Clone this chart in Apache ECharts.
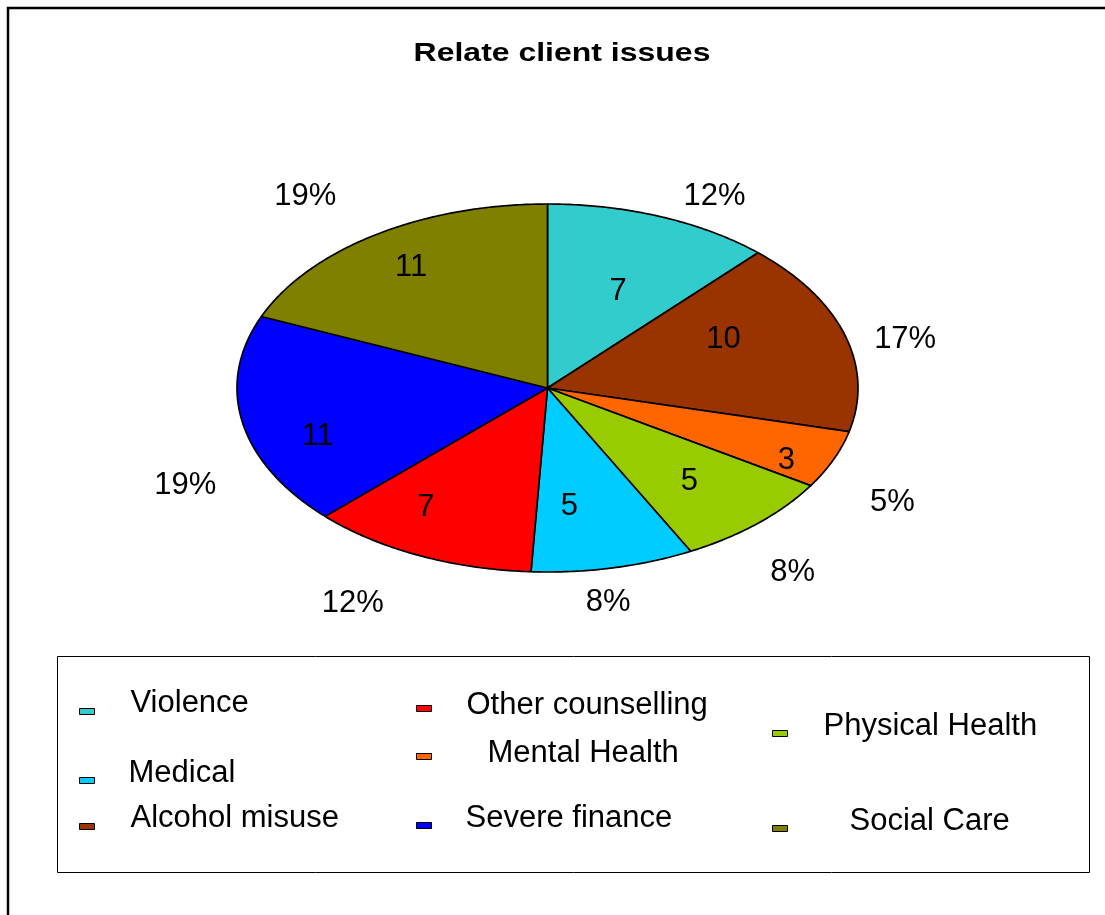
<!DOCTYPE html>
<html>
<head>
<meta charset="utf-8">
<title>Relate client issues</title>
<script src="https://cdn.jsdelivr.net/npm/echarts@6/dist/echarts.min.js"></script>
<style>
  html, body { margin: 0; padding: 0; background: #fff; }
  #chart { width: 1105px; height: 915px; }
</style>
</head>
<body>
<div id="chart"></div>
<script>
// Client issues and how many clients raised each one (clockwise from 12 o'clock)
const chartTitle = 'Relate client issues';
const categories = ['Violence', 'Alcohol misuse', 'Mental Health', 'Physical Health',
                    'Medical', 'Other counselling', 'Severe finance', 'Social Care'];
const counts = [7, 10, 3, 5, 5, 7, 11, 11];
const colors = ['#33CCCC', '#993300', '#FF6600', '#99CC00',
                '#00CCFF', '#FF0000', '#0000FF', '#808000'];

const FONT = '"Liberation Sans", Arial, Helvetica, sans-serif';
const total = counts.reduce((a, b) => a + b, 0);
const cumulative = [0];
counts.forEach(v => cumulative.push(cumulative[cumulative.length - 1] + v));

// Per-slice label nudges in px (like ECharts label.offset), count label then percent label
const countLabelOffset = [[-12, 23], [-41, -11], [30, 22], [-12, -1],
                          [-26, -7], [-28, 2], [-7, 25], [-11, -13]];
const pctLabelOffset   = [[28, 23], [-8, 18], [-7, 25], [-14, 15],
                          [-20, -10], [-37, 6], [13, 55], [-31, 0]];

// Legend layout: [left of swatch, top of swatch, gap before text, text lift]
const legendSlots = {
  'Violence':          [79, 708, 31, 8.5],
  'Medical':           [79, 777, 29, 7.5],
  'Alcohol misuse':    [79, 823, 31, 8],
  'Other counselling': [416, 705, 30, 3.5],
  'Mental Health':     [416, 753, 51, 3.5],
  'Severe finance':    [416, 822, 29, 7.5],
  'Physical Health':   [772, 730, 31, 7],
  'Social Care':       [772, 825, 57, 7.5]
};
const LEGEND_GLYPH_HALF = 15;   // half the height of a 31px legend line

// The pie lives in a hidden [-1,1] x [-1,1] cartesian frame, so the unit circle
// is mapped by the axes onto the flattened (elliptical) pie.
function renderSlice(params, api) {
  const i = params.seriesIndex;
  const a0 = cumulative[i] / total * Math.PI * 2;
  const a1 = cumulative[i + 1] / total * Math.PI * 2;
  const pts = [api.coord([0, 0])];
  const steps = Math.max(8, Math.ceil((a1 - a0) / 0.01));
  for (let k = 0; k <= steps; k++) {
    const t = a0 + (a1 - a0) * k / steps;
    pts.push(api.coord([Math.sin(t), Math.cos(t)]));
  }
  const mid = (a0 + a1) / 2;
  const inner = api.coord([0.73 * Math.sin(mid), 0.70 * Math.cos(mid)]);
  const outer = api.coord([1.23 * Math.sin(mid), 1.25 * Math.cos(mid)]);
  const pct = Math.round(counts[i] / total * 100) + '%';
  const txt = (p, off, s) => ({
    type: 'text', x: p[0] + off[0], y: p[1] + off[1], z2: 10,
    style: { text: s, fill: '#000', font: '31px ' + FONT, align: 'center', verticalAlign: 'middle' }
  });
  return {
    type: 'group',
    children: [
      { type: 'polygon', shape: { points: pts },
        style: { fill: colors[i], stroke: '#000', lineWidth: 1.7, lineJoin: 'round' } },
      txt(inner, countLabelOffset[i], String(counts[i])),
      txt(outer, pctLabelOffset[i], pct)
    ]
  };
}

const series = categories.map((name, i) => ({
  type: 'custom',
  name: name,
  coordinateSystem: 'cartesian2d',
  renderItem: renderSlice,
  itemStyle: { color: colors[i], borderColor: '#000', borderWidth: 1 },
  data: [[0, 0]],
  silent: true
}));

// Each legend entry sits in its own legend box. The text is given a trailing
// empty line whose height lifts the name above the swatch centre.
const legends = categories.map((name, i) => {
  const slot = legendSlots[name];
  const lift = slot[3];
  return {
    data: [{ name: name, icon: 'rect',
             itemStyle: { color: colors[i], borderColor: '#000', borderWidth: 1 } }],
    formatter: n => n + '\n',
    left: slot[0],
    top: slot[1] - lift - (LEGEND_GLYPH_HALF - 3),
    padding: 0,
    itemWidth: 15,
    itemHeight: 6,
    selectedMode: false,
    textStyle: { fontSize: 31, fontFamily: FONT, color: '#000',
                 lineHeight: lift * 2, padding: [0, 0, 0, slot[2]] }
  };
});

const chart = echarts.init(document.getElementById('chart'), null, { renderer: 'canvas' });
chart.setOption({
  animation: false,
  backgroundColor: '#fff',
  grid: { left: 237, top: 204, width: 621, height: 368 },
  xAxis: { type: 'value', min: -1, max: 1, show: false },
  yAxis: { type: 'value', min: -1, max: 1, show: false },
  legend: legends,
  graphic: [
    // outer chart-area frame
    { type: 'rect', shape: { x: 8, y: 8, width: 1400, height: 1200 },
      style: { fill: null, stroke: '#000', lineWidth: 2.5 }, silent: true },
    // legend box
    { type: 'rect', shape: { x: 57.5, y: 656.5, width: 1032, height: 216 },
      style: { fill: null, stroke: '#000', lineWidth: 1 }, silent: true, z: -1 },
    // chart title
    { type: 'text', x: 562, y: 54, scaleX: 1.23, silent: true,
      style: { text: chartTitle, fill: '#000', font: 'bold 26px ' + FONT,
               align: 'center', verticalAlign: 'middle' } }
  ],
  series: series
});
</script>
</body>
</html>
